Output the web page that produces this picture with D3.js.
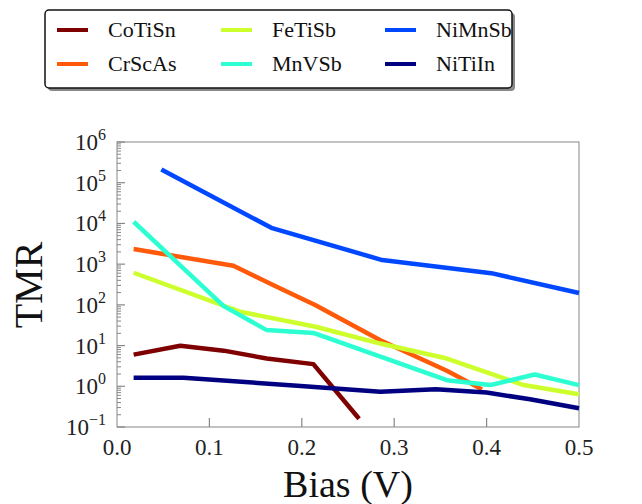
<!DOCTYPE html>
<html>
<head>
<meta charset="utf-8">
<script src="https://cdn.jsdelivr.net/npm/d3@7"></script>
<style>
  body { margin: 0; background: #fff; }
  svg { display: block; font-family: 'Liberation Serif', 'DejaVu Serif', serif; }
</style>
</head>
<body>
<svg id="chart" width="642" height="504"></svg>
<script>
// Data (bias in V, TMR)
var names = ['CoTiSn', 'CrScAs', 'FeTiSb', 'MnVSb', 'NiMnSb', 'NiTiIn']
var colors = ['#7f0000', '#ff5a0a', '#cdff2c', '#2cffd2', '#0048ff', '#000080']

var coTiSnX = [0.018, 0.0685, 0.1155, 0.162, 0.2125, 0.262]
var coTiSnY = [6.0, 9.9, 7.5, 4.8, 3.5, 0.16]
var crScAsX = [0.018, 0.126, 0.17, 0.215, 0.285, 0.357, 0.395]
var crScAsY = [2350, 910, 300, 98, 13.5, 2.4, 0.84]
var feTiSbX = [0.018, 0.133, 0.215, 0.285, 0.357, 0.44, 0.5]
var feTiSbY = [615, 68, 29, 11.2, 4.8, 1.07, 0.64]
var mnVSbX = [0.018, 0.1155, 0.162, 0.2125, 0.357, 0.404, 0.452, 0.5]
var mnVSbY = [11000, 93, 24, 20.5, 1.41, 1.07, 1.95, 1.07]
var niMnSbX = [0.048, 0.167, 0.287, 0.405, 0.5]
var niMnSbY = [210000, 7800, 1260, 600, 195]
var niTiInX = [0.018, 0.072, 0.195, 0.285, 0.345, 0.4, 0.447, 0.5]
var niTiInY = [1.62, 1.62, 1.03, 0.73, 0.84, 0.70, 0.48, 0.29]

var xTicks = [0.0, 0.1, 0.2, 0.3, 0.4, 0.5]
var xTickLabels = ['0.0', '0.1', '0.2', '0.3', '0.4', '0.5']
var yExponents = [-1, 0, 1, 2, 3, 4, 5, 6]

var seriesX = [coTiSnX, crScAsX, feTiSbX, mnVSbX, niMnSbX, niTiInX]
var seriesY = [coTiSnY, crScAsY, feTiSbY, mnVSbY, niMnSbY, niTiInY]

var svg = d3.select('#chart')
var pLeft = 117, pRight = 579, pTop = 142, pBottom = 427

var x = d3.scaleLinear().domain([0, 0.5]).range([pLeft, pRight])
var y = d3.scaleLog().domain([0.1, 1e6]).range([pBottom, pTop])

// frame
svg.append('rect')
  .attr('x', pLeft).attr('y', pTop)
  .attr('width', pRight - pLeft).attr('height', pBottom - pTop)
  .attr('fill', 'none').attr('stroke', '#9a9a9a').attr('stroke-width', 1.2)

// y ticks (major + minor, pointing inward)
var minor = []
yExponents.forEach(function (e) {
  if (e < 6) for (var k = 2; k < 10; k++) minor.push(k * Math.pow(10, e))
})
svg.append('g').selectAll('line.minor')
  .data(minor).enter().append('line')
  .attr('x1', pLeft).attr('x2', pLeft + 4)
  .attr('y1', d => y(d)).attr('y2', d => y(d))
  .attr('stroke', '#888').attr('stroke-width', 1)
svg.append('g').selectAll('line.major')
  .data(yExponents).enter().append('line')
  .attr('x1', pLeft).attr('x2', pLeft + 8)
  .attr('y1', d => y(Math.pow(10, d))).attr('y2', d => y(Math.pow(10, d)))
  .attr('stroke', '#888').attr('stroke-width', 1.2)

var yl = svg.append('g').selectAll('text')
  .data(yExponents).enter().append('text')
  .attr('x', 106).attr('y', d => y(Math.pow(10, d)) + 8)
  .attr('text-anchor', 'end')
  .attr('font-size', 23).attr('fill', '#222')
yl.append('tspan').text('10')
yl.append('tspan').attr('dy', -10).attr('font-size', 16)
  .text(d => d < 0 ? '\u2212' + (-d) : d)

// x ticks
svg.append('g').selectAll('line')
  .data(xTicks.slice(1, -1)).enter().append('line')
  .attr('x1', d => x(d)).attr('x2', d => x(d))
  .attr('y1', pBottom).attr('y2', pBottom - 9)
  .attr('stroke', '#888').attr('stroke-width', 1.2)
svg.append('g').selectAll('text')
  .data(xTicks).enter().append('text')
  .attr('x', d => x(d)).attr('y', 455)
  .attr('text-anchor', 'middle')
  .attr('font-size', 23).attr('fill', '#222')
  .text((d, i) => xTickLabels[i])

// axis titles
svg.append('text')
  .attr('x', (pLeft + pRight) / 2).attr('y', 497)
  .attr('text-anchor', 'middle').attr('font-size', 38).attr('fill', '#111')
  .text('Bias (V)')
svg.append('text')
  .attr('transform', 'translate(42,285) rotate(-90)')
  .attr('text-anchor', 'middle').attr('font-size', 40).attr('fill', '#111')
  .text('TMR')

// lines
var line = d3.line()
  .x(d => x(d[0]))
  .y(d => y(d[1]))
svg.append('g').selectAll('path')
  .data(names).enter().append('path')
  .attr('d', (d, i) => line(d3.zip(seriesX[i], seriesY[i])))
  .attr('fill', 'none')
  .attr('stroke', (d, i) => colors[i])
  .attr('stroke-width', 4.5)
  .attr('stroke-linejoin', 'round')

// legend
var lg = svg.append('g')
lg.append('rect')
  .attr('x', 48).attr('y', 13).attr('width', 467).attr('height', 78)
  .attr('rx', 4).attr('fill', '#888')
lg.append('rect')
  .attr('x', 45).attr('y', 10).attr('width', 467).attr('height', 78)
  .attr('rx', 4).attr('fill', '#fff').attr('stroke', '#111').attr('stroke-width', 1.5)
var colX = [57, 221, 385]
var rowY = [30, 64]
var items = lg.selectAll('g.item')
  .data(names).enter().append('g')
  .attr('transform', (d, i) => 'translate(' + colX[Math.floor(i / 2)] + ',' + rowY[i % 2] + ')')
items.append('line')
  .attr('x1', 0).attr('x2', 31).attr('y1', 0).attr('y2', 0)
  .attr('stroke', (d, i) => colors[i]).attr('stroke-width', 4)
items.append('text')
  .attr('x', 51).attr('y', 7)
  .attr('font-size', 22).attr('fill', '#111')
  .text(d => d)
</script>
</body>
</html>
